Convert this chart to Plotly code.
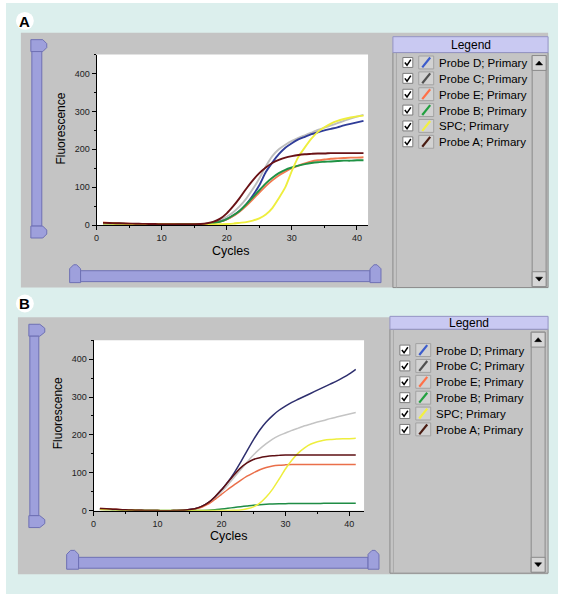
import plotly.graph_objects as go

W, H = 564, 601

# ---------------- data ----------------
cycles = list(range(1, 42))
series_names = ["Probe D; Primary", "Probe C; Primary", "Probe E; Primary",
                "Probe B; Primary", "SPC; Primary", "Probe A; Primary"]
x_ticks = [0, 10, 20, 30, 40]
y_ticks = [0, 100, 200, 300, 400]
panel_labels = ["A", "B"]
x_title = "Cycles"
y_title = "Fluorescence"
legend_title = "Legend"

# Panel A
A_probe_d = [5, 4.5, 4, 3.5, 3.2, 3, 2.8, 2.6, 2.5, 2.4, 2.3, 2.2, 2.2, 2.2, 2.3,
             3, 4, 6, 10, 16, 25, 38, 55, 78, 105, 140, 165, 187, 204, 216, 226,
             233, 240, 245, 250, 254, 258, 263, 267, 271, 275]
A_probe_c = [4, 3.8, 3.5, 3.2, 3, 2.8, 2.6, 2.5, 2.4, 2.3, 2.2, 2.2, 2.2, 2.2, 2.4,
             3, 4, 7, 13, 22, 34, 50, 70, 95, 123, 155, 182, 200, 212, 222, 230,
             237, 244, 251, 257, 263, 269, 275, 281, 286, 291]
A_probe_e = [7, 6, 5, 4.2, 3.6, 3.2, 2.9, 2.7, 2.5, 2.4, 2.3, 2.2, 2.2, 2.2, 2.3,
             2.5, 3, 5, 9, 15, 24, 36, 51, 68, 86, 103, 118, 131, 141, 150, 157,
             163, 168, 171, 173, 175, 176, 177, 178, 178, 179]
A_probe_b = [5, 4.5, 4, 3.6, 3.2, 3, 2.8, 2.6, 2.5, 2.4, 2.3, 2.2, 2.2, 2.2, 2.3,
             2.5, 3, 5, 9, 16, 26, 38, 55, 73, 92, 110, 125, 137, 146, 152, 157,
             161, 164, 166, 167, 168, 169, 170, 170, 171, 171]
A_spc = [4, 3.8, 3.5, 3.2, 3, 2.8, 2.6, 2.5, 2.4, 2.3, 2.2, 2.1, 2, 2, 2,
         2, 2, 2, 2.5, 3, 4, 6, 8, 12, 18, 28, 45, 71, 100, 143, 180,
         205, 228, 246, 258, 268, 275, 280, 284, 287, 289]
A_probe_a = [6, 5.5, 5, 4.5, 4, 3.6, 3.3, 3, 2.8, 2.6, 2.5, 2.4, 2.4, 2.4, 2.6,
             3, 5, 9, 17, 31, 50, 72, 96, 118, 137, 152, 164, 172, 178, 182, 185,
             187, 188, 189, 189, 190, 190, 190, 190, 190, 190]

# Panel B
B_probe_d = [5, 4, 3.4, 2.8, 2.2, 1.7, 1.2, 0.8, 0.5, 0.3, 0.2, 0.2, 0.4,
             1, 3, 6, 12, 22, 37, 55, 76, 100, 128, 158, 187, 213, 234, 251, 265,
             276, 286, 294, 302, 310, 318, 326, 334, 342, 351, 361, 373]
B_probe_c = [4, 3.4, 2.9, 2.4, 1.9, 1.4, 1, 0.7, 0.4, 0.3, 0.2, 0.2, 0.4,
             1, 3, 6, 12, 21, 34, 50, 68, 88, 108, 128, 147, 163, 177, 189, 198,
             205, 212, 218, 224, 229, 234, 238, 243, 247, 251, 255, 259]
B_probe_e = [6, 5, 4, 3.2, 2.5, 1.8, 1.2, 0.8, 0.5, 0.3, 0.2, 0.2, 0.4,
             1, 2, 5, 10, 18, 30, 43, 56, 68, 80, 91, 100, 108, 114, 118, 120,
             121, 122, 122, 122, 122, 122, 122, 122, 122, 122, 122, 122]
B_probe_b = [4, 3.4, 2.8, 2.2, 1.7, 1.2, 0.8, 0.5, 0.4, 0.3, 0.3, 0.3, 0.3,
             0.3, 0.3, 0.3, 0.5, 1, 2.5, 4.5, 6.5, 8.5, 10.5, 12.5, 14.5, 16, 17, 18,
             18.5, 18.5, 19, 19, 19, 19, 19, 19.5, 19.5, 20, 20, 20, 20]
B_spc = [3, 2.7, 2.3, 1.9, 1.5, 1.1, 0.8, 0.5, 0.4, 0.3, 0.3, 0.3, 0.3,
         0.3, 0.3, 0.3, 0.3, 0.3, 0.3, 0.4, 0.5, 1, 2, 5, 10, 20, 36, 57, 83,
         110, 133, 152, 166, 176, 182, 186, 188, 189, 190, 190, 191]
B_probe_a = [6, 5, 4, 3.2, 2.5, 1.8, 1.2, 0.8, 0.5, 0.3, 0.2, 0.2, 0.4,
             1, 3, 6, 12, 22, 37, 55, 75, 95, 113, 126, 135, 140, 143, 145, 146,
             147, 147, 147, 147, 147, 147, 147, 147, 147, 147, 147, 147]

panel_A = [A_probe_d, A_probe_c, A_probe_e, A_probe_b, A_spc, A_probe_a]
panel_B = [B_probe_d, B_probe_c, B_probe_e, B_probe_b, B_spc, B_probe_a]

# ---------------- styles ----------------
colors_A = ["#2f3c98", "#bdbdbd", "#f27a52", "#1f9244", "#eeee3e", "#6a1216"]
colors_B = ["#2e2f6e", "#c4c4c4", "#ea6f4a", "#1f8d45", "#eeee3e", "#5e1014"]
icon_colors = ["#3c5ccc", "#505050", "#ff7048", "#22a040", "#f2f040", "#4a1c12"]
draw_order = [1, 0, 2, 3, 4, 5]
FONT = "Arial, Liberation Sans, sans-serif"
CYAN = "#dcefed"
GRAY = "#c4c4c4"
SB_FILL = "#9ea0dc"
SB_LINE = "#6e70b4"

def px(x):
    return x / W

def py(y):
    return 1 - y / H

shapes = []
annotations = []

def rect(x0, y0, x1, y1, fill, line=None, lw=0):
    shapes.append(dict(type="rect", xref="paper", yref="paper",
                       x0=px(x0), x1=px(x1), y0=py(y1), y1=py(y0),
                       fillcolor=fill, line=dict(color=line or fill, width=lw),
                       layer="below"))

def poly(pts, fill, line, lw=1, close=True):
    d = "M " + " L ".join(f"{px(x):.5f},{py(y):.5f}" for x, y in pts)
    if close:
        d += " Z"
    shapes.append(dict(type="path", xref="paper", yref="paper", path=d,
                       fillcolor=fill, line=dict(color=line, width=lw),
                       layer="below"))

def text(x, y, s, size=12, color="black", xanchor="center", yanchor="middle",
         angle=0, bold=False):
    if bold:
        s = "<b>" + s + "</b>"
    annotations.append(dict(x=px(x), y=py(y), xref="paper", yref="paper",
                            text=s, showarrow=False, xanchor=xanchor,
                            yanchor=yanchor, textangle=angle,
                            font=dict(family=FONT, size=size, color=color)))

# background
rect(3, 3, 558, 599, CYAN)

def panel(top, bottom, left, plot_box, vsb, hsb, label_y, leg):
    # gray window
    rect(left, top, 548, bottom, GRAY)
    # white plot area
    x0, y0, x1, y1 = plot_box
    rect(x0, y0, x1, y1, "white")
    # label circle
    shapes.append(dict(type="circle", xref="paper", yref="paper",
                       x0=px(13), x1=px(31), y0=py(label_y + 9), y1=py(label_y - 9),
                       fillcolor="white", line=dict(color="white", width=0),
                       layer="below"))
    # vertical scrollbar
    vx0, vx1, vxp, vt0, vt1, vb0, vb1 = vsb
    poly([(vx0, vt0), (vx1, vt0), (vxp, vt0 + 4), (vxp, vt1 - 4), (vx1, vt1), (vx0, vt1)],
         SB_FILL, SB_LINE)
    rect(vx0 + 1, vt1, vx1 - 1, vb0, SB_FILL, SB_LINE, 1)
    poly([(vx0, vb0), (vx1, vb0), (vxp, vb0 + 4), (vxp, vb1 - 4), (vx1, vb1), (vx0, vb1)],
         SB_FILL, SB_LINE)
    # horizontal scrollbar
    hl0, hl1, hr0, hr1, htop, ht0, hbot = hsb
    poly([(hl0, hbot), (hl0, htop + 4), (hl0 + 4, htop), (hl1 - 4, htop), (hl1, htop + 4), (hl1, hbot)],
         SB_FILL, SB_LINE)
    rect(hl1, ht0, hr0, hbot - 1, SB_FILL, SB_LINE, 1)
    poly([(hr0, hbot), (hr0, htop + 4), (hr0 + 4, htop), (hr1 - 4, htop), (hr1, htop + 4), (hr1, hbot)],
         SB_FILL, SB_LINE)
    # legend
    lx0, lt0, lt1, lbot, row0, sbx0, sbx1 = leg
    rect(lx0, lt1, 548, lbot, GRAY, "#8a8a8a", 1)
    rect(lx0 + 3, lt1, lx0 + 4, lbot, "#a8a8a8")
    rect(lx0, lt0, 548, lt1, "#c9c9f2", "#9494c4", 1)
    text((lx0 + 548) / 2, (lt0 + lt1) / 2 + 0.5, legend_title, size=12)
    # legend scrollbar
    rect(sbx0, lt1 + 3, sbx1, lbot - 1, "#c6c6c6", "#8a8a8a", 1)
    rect(sbx0, lt1 + 3, sbx1, lt1 + 18, "#d6d6d6", "#8a8a8a", 1)
    cx = (sbx0 + sbx1) / 2
    cy = lt1 + 10.5
    poly([(cx - 3.5, cy + 2), (cx + 3.5, cy + 2), (cx, cy - 2)], "black", "black", 0.5)
    rect(sbx0, lbot - 16, sbx1, lbot - 1, "#d6d6d6", "#8a8a8a", 1)
    cy = lbot - 8.5
    poly([(cx - 3.5, cy - 2), (cx + 3.5, cy - 2), (cx, cy + 2)], "black", "black", 0.5)
    for i, name in enumerate(series_names):
        ry = row0 + 16 * i
        cbx = lx0 + 10
        rect(cbx, ry - 5, cbx + 10, ry + 5, "white", "#7c7c7c", 1)
        poly([(cbx + 2, ry), (cbx + 4.2, ry + 2.8), (cbx + 8, ry - 2.8)],
             "rgba(0,0,0,0)", "black", 1.5, close=False)
        ix = lx0 + 26
        rect(ix, ry - 6.5, ix + 15, ry + 6.5, "#d2d2d2", "#a2a2a2", 1)
        shapes.append(dict(type="line", xref="paper", yref="paper",
                           x0=px(ix + 3.5), y0=py(ry + 5), x1=px(ix + 11.5), y1=py(ry - 5),
                           line=dict(color=icon_colors[i], width=2.2), layer="below"))
        text(ix + 18, ry + 0.5, name, size=11.5, xanchor="left")

panel(33, 290, 18, (94, 55, 367, 227),
      (28, 40, 44, 40, 52, 228, 240),
      (67, 78, 369, 380, 267, 273, 285), 21,
      (392, 37, 53, 290, 63, 532, 546))
panel(320, 579, 15, (91, 343, 363, 515),
      (26, 37, 42, 327, 339, 520, 532),
      (64, 76, 367, 378, 555, 562, 574), 306,
      (389, 319, 332, 578, 353, 531, 545))

# panel labels
text(22, 21.5, panel_labels[0], size=15, bold=True)
text(22, 306.5, panel_labels[1], size=15, bold=True)
# axis titles
text(58, 130, y_title, size=12, angle=-90)
text(229, 253, x_title, size=12.5)
text(55, 417, y_title, size=12, angle=-90)
text(227, 541, x_title, size=12.5)

fig = go.Figure()
for panel_data, colors, xa, ya, lw in [(panel_A, colors_A, "x", "y", 1.9),
                                       (panel_B, colors_B, "x2", "y2", 1.5)]:
    for k in draw_order:
        fig.add_trace(go.Scatter(x=cycles, y=panel_data[k], mode="lines",
                                 name=series_names[k], xaxis=xa, yaxis=ya,
                                 line=dict(color=colors[k], width=lw, shape="spline",
                                           smoothing=0.6),
                                 showlegend=False, hoverinfo="skip"))

axis_common = dict(showline=True, linecolor="black", linewidth=1, ticks="outside",
                   ticklen=4, tickcolor="black", showgrid=False, zeroline=False,
                   tickfont=dict(family=FONT, size=9, color="#222222"),
                   fixedrange=True)

fig.update_layout(
    width=W, height=H, margin=dict(l=0, r=0, t=0, b=0),
    paper_bgcolor="white", plot_bgcolor="rgba(0,0,0,0)",
    font=dict(family=FONT),
    showlegend=False,
    shapes=shapes, annotations=annotations,
    xaxis=dict(domain=[94 / W, 367 / W], anchor="y", range=[0, 41.7],
               tickmode="array", tickvals=x_ticks,
               minor=dict(tickmode="linear", tick0=0, dtick=5, ticks="outside",
                          ticklen=2, tickcolor="black"), **axis_common),
    yaxis=dict(domain=[1 - 227 / H, 1 - 55 / H], anchor="x", range=[0, 450],
               tickmode="array", tickvals=y_ticks,
               minor=dict(tickmode="linear", tick0=0, dtick=50, ticks="outside",
                          ticklen=2, tickcolor="black"), **axis_common),
    xaxis2=dict(domain=[91 / W, 363 / W], anchor="y2", range=[0, 42.3],
                tickmode="array", tickvals=x_ticks,
                minor=dict(tickmode="linear", tick0=0, dtick=5, ticks="outside",
                           ticklen=2, tickcolor="black"), **axis_common),
    yaxis2=dict(domain=[1 - 515 / H, 1 - 343 / H], anchor="x2", range=[0, 450],
                tickmode="array", tickvals=y_ticks,
                minor=dict(tickmode="linear", tick0=0, dtick=50, ticks="outside",
                           ticklen=2, tickcolor="black"), **axis_common),
)

fig.write_html("out.html",
               config={"displayModeBar": False},
               post_script="document.body.style.margin='0';"
                           "document.body.style.overflow='hidden';")
